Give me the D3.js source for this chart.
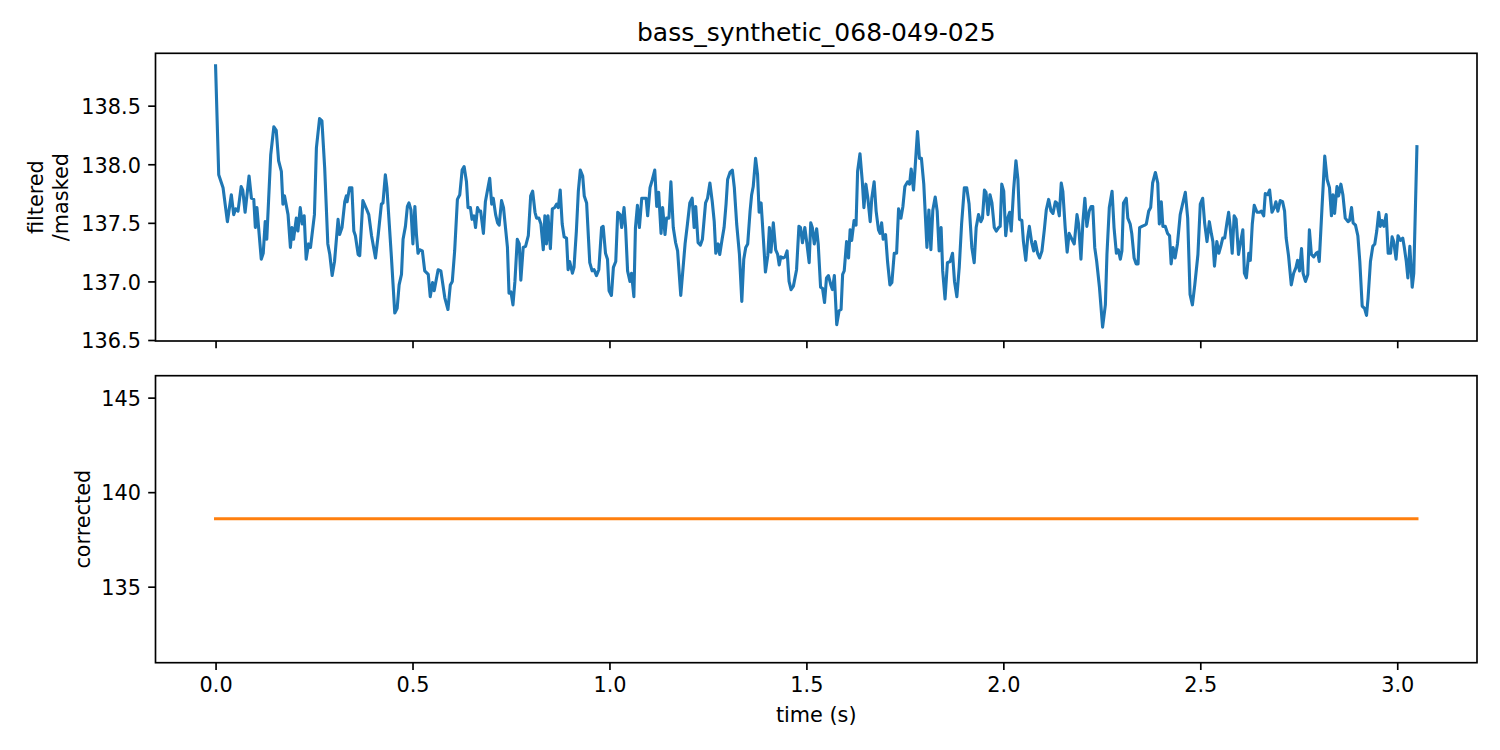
<!DOCTYPE html>
<html>
<head>
<meta charset="utf-8">
<script src="https://cdn.jsdelivr.net/npm/d3@7"></script>
<style>
  body { margin: 0; background: #fff; }
  text { font-family: "DejaVu Sans", sans-serif; fill: #000; }
</style>
</head>
<body>
<svg id="chart"></svg>
<script>
var title = 'bass_synthetic_068-049-025';

// time (s) of each filtered/masked pitch sample
var times = [
  0.000,0.008,0.019,0.030,0.040,0.046,0.051,0.057,0.065,0.069,0.075,0.085,0.091,0.097,0.101,0.105,0.116,0.121,0.126,0.130,
  0.140,0.148,0.154,0.160,0.167,0.171,0.175,0.184,0.190,0.194,0.198,0.205,0.209,0.215,0.220,0.225,0.230,0.236,0.241,0.251,
  0.256,0.264,0.270,0.277,0.285,0.290,0.296,0.302,0.311,0.315,0.321,0.328,0.332,0.334,0.340,0.346,0.351,0.355,
  0.362,0.366,0.374,0.383,0.389,0.396,0.406,0.413,0.421,0.425,0.431,0.435,0.446,0.455,0.461,0.466,0.472,0.476,0.482,0.487,
  0.491,0.496,0.501,0.506,0.510,0.514,0.518,0.525,0.531,0.540,0.545,0.551,0.555,0.565,0.572,0.582,0.590,0.596,0.601,0.607,
  0.614,0.620,0.626,0.631,0.637,0.641,0.647,0.651,0.656,0.660,0.665,0.669,0.673,0.680,0.685,0.696,0.701,0.705,0.711,0.716,
  0.720,0.726,0.731,
  0.741,0.745,0.750,0.755,0.760,0.766,0.771,0.775,0.781,0.787,0.794,0.800,0.805,0.811,0.815,0.821,0.826,0.832,0.836,0.840,
  0.844,0.850,0.855,0.861,0.866,0.870,0.875,0.880,0.885,0.891,0.895,0.899,0.906,0.910,0.916,0.921,0.926,0.932,0.936,0.942,
  0.950,0.956,0.961,0.967,0.973,0.980,0.984,0.990,0.995,0.999,1.005,1.010,1.016,1.021,1.027,1.031,1.037,1.041,1.046,1.052,
  1.056,1.062,1.066,1.071,1.076,1.082,1.088,1.093,1.097,1.103,1.109,1.115,
  1.120,1.125,1.131,1.135,1.141,1.145,1.151,1.156,1.162,1.168,1.173,1.181,1.192,1.198,1.204,1.210,1.215,1.219,1.225,1.231,
  1.236,1.244,1.249,1.255,1.261,1.266,1.270,1.276,1.280,1.286,1.291,1.296,1.300,1.306,1.312,1.317,1.323,1.330,1.336,1.341,
  1.346,1.351,1.357,1.361,1.365,1.371,1.376,1.380,1.385,1.389,1.396,1.402,1.406,1.410,1.416,1.422,1.427,1.431,1.435,1.441,
  1.446,1.451,1.456,1.461,1.467,1.475,1.481,1.485,1.490,1.496,
  1.501,1.507,1.511,1.515,1.520,1.526,1.530,1.536,1.541,1.546,1.551,1.556,1.562,1.566,1.571,1.577,1.583,1.588,1.592,1.596,
  1.602,1.607,1.611,1.615,1.621,1.626,1.630,1.636,1.642,1.646,1.651,1.656,1.662,1.666,1.672,1.677,1.683,1.687,1.691,1.695,
  1.701,1.706,1.712,1.717,1.723,1.729,1.734,1.740,1.745,1.750,1.757,1.762,1.766,1.772,1.776,1.782,1.787,1.792,1.798,1.806,
  1.811,1.816,1.821,1.827,1.832,1.837,1.842,1.846,1.852,1.858,1.865,1.871,1.876,1.882,
  1.888,1.894,1.901,1.907,1.913,1.920,1.926,1.931,1.937,1.943,1.947,1.952,1.956,1.961,1.966,1.971,1.977,1.982,1.988,1.992,
  1.996,2.001,2.006,2.011,2.016,2.020,2.026,2.032,2.037,2.041,2.047,2.051,2.057,2.062,2.066,2.072,2.077,2.081,2.087,2.092,
  2.098,2.104,2.109,2.115,2.121,2.126,2.132,2.136,2.142,2.147,2.151,2.157,2.162,2.167,2.174,2.180,2.187,2.191,2.197,2.202,
  2.207,2.212,2.218,2.223,2.227,2.232,2.237,2.244,2.252,
  2.259,2.263,2.269,2.276,2.281,2.287,2.292,2.297,2.301,2.305,2.312,2.316,2.322,2.326,2.332,2.337,2.342,2.346,2.352,2.359,
  2.363,2.369,2.374,2.379,2.386,2.392,2.396,2.401,2.405,2.411,2.417,2.422,2.426,2.431,2.436,2.442,2.449,2.455,2.462,2.468,
  2.474,2.480,2.486,2.494,2.500,2.506,2.511,2.517,2.523,2.528,2.532,2.536,2.542,2.547,2.552,2.557,2.562,2.568,2.572,2.576,
  2.581,2.586,2.591,2.597,2.602,2.608,2.612,2.617,2.623,2.627,2.632,2.637,
  2.644,2.650,2.655,2.661,2.665,2.671,2.676,2.682,2.688,2.692,2.697,2.703,2.709,2.714,2.718,2.724,2.731,2.737,2.743,2.747,
  2.752,2.757,2.761,2.767,2.773,2.777,2.782,2.788,2.794,2.798,2.802,2.809,2.816,2.822,2.828,2.833,2.837,2.841,2.847,2.851,
  2.857,2.862,2.868,2.875,2.879,2.884,2.888,2.894,2.900,2.905,2.911,2.917,2.922,2.926,2.932,2.938,2.943,2.948,2.953,2.957,
  2.961,2.966,2.972,2.977,2.983,2.987,2.991,2.997,3.002,3.008,3.014,3.018,3.023,3.027,3.032,3.038,3.042,3.050
];

// filtered / masked pitch values (one per time above)
var filtered = [
  138.84,137.91,137.80,137.51,137.74,137.57,137.62,137.60,137.81,137.78,137.59,137.90,137.71,137.70,137.46,137.63,137.19,137.24,137.51,137.36,
  138.08,138.32,138.29,138.03,137.94,137.66,137.73,137.57,137.29,137.46,137.36,137.54,137.43,137.63,137.49,137.56,137.19,137.32,137.29,137.57,
  138.14,138.39,138.37,137.97,137.32,137.23,137.05,137.17,137.53,137.40,137.46,137.68,137.73,137.68,137.80,137.80,137.43,137.39,
  137.23,137.22,137.69,137.62,137.57,137.39,137.20,137.40,137.66,137.67,137.91,137.80,137.23,136.73,136.77,136.97,137.06,137.36,137.47,137.64,
  137.67,137.61,137.32,137.64,137.40,137.24,137.27,137.26,137.09,137.06,136.87,136.99,136.92,137.10,137.09,136.86,136.76,136.97,137.00,137.26,
  137.70,137.74,137.95,137.98,137.85,137.63,137.63,137.53,137.56,137.46,137.63,137.60,137.60,137.41,137.68,137.88,137.66,137.71,137.57,137.50,
  137.48,137.69,137.63,
  137.29,136.90,136.91,136.80,137.00,137.36,137.32,137.01,137.29,137.30,137.39,137.73,137.77,137.59,137.54,137.54,137.49,137.27,137.56,137.32,
  137.56,137.28,137.62,137.63,137.66,137.63,137.78,137.49,137.38,137.37,137.10,137.17,137.07,137.12,137.43,137.77,137.95,137.90,137.73,137.67,
  137.16,137.09,137.10,137.05,137.10,137.46,137.47,137.24,137.19,136.92,136.88,137.12,137.17,137.59,137.57,137.46,137.63,137.46,137.09,137.00,
  137.07,136.87,137.46,137.65,137.46,137.71,137.71,137.71,137.56,137.80,137.87,137.95,
  137.64,137.76,137.41,137.63,137.40,137.54,137.54,137.85,137.46,137.33,137.26,136.88,137.32,137.49,137.67,137.71,137.46,137.64,137.33,137.31,
  137.36,137.67,137.71,137.84,137.68,137.51,137.24,137.32,137.23,137.36,137.46,137.66,137.87,137.93,137.95,137.80,137.49,137.23,136.83,137.19,
  137.29,137.32,137.60,137.74,137.81,138.05,137.91,137.59,137.67,137.46,137.08,137.22,137.46,137.25,137.50,137.27,137.23,137.14,137.21,137.20,
  137.21,137.26,137.00,136.93,136.96,137.10,137.47,137.46,137.33,137.46,
  137.33,137.16,137.50,137.46,137.32,137.45,137.32,136.95,136.94,136.82,137.03,137.05,136.97,136.93,137.05,136.63,136.75,136.76,137.06,137.09,
  137.34,137.20,137.44,137.35,137.52,137.48,137.94,138.09,137.85,137.63,137.83,137.71,137.51,137.71,137.85,137.60,137.44,137.41,137.50,137.36,
  137.40,137.17,136.97,136.99,137.24,137.24,137.62,137.54,137.64,137.81,137.85,137.83,137.96,137.78,137.97,138.28,138.05,138.05,137.83,137.29,
  137.61,137.27,137.61,137.72,137.60,137.26,137.46,137.09,136.85,137.16,137.17,137.24,137.00,136.87,
  137.12,137.49,137.80,137.80,137.66,137.29,137.16,137.46,137.57,137.51,137.54,137.78,137.76,137.57,137.74,137.67,137.46,137.43,137.46,137.47,
  137.83,137.77,137.39,137.54,137.59,137.43,137.78,138.03,137.87,137.53,137.52,137.34,137.18,137.38,137.47,137.33,137.26,137.34,137.24,137.20,
  137.26,137.44,137.61,137.70,137.60,137.58,137.68,137.67,137.56,137.84,137.77,137.46,137.25,137.41,137.36,137.32,137.57,137.49,137.19,137.51,
  137.71,137.47,137.60,137.64,137.64,137.29,137.17,136.95,136.61,
  136.80,137.23,137.63,137.77,137.46,137.24,137.27,137.19,137.26,137.67,137.71,137.54,137.49,137.41,137.20,137.15,137.15,137.46,137.47,137.48,
  137.49,137.60,137.63,137.84,137.93,137.84,137.49,137.68,137.47,137.47,137.41,137.39,137.15,137.29,137.20,137.32,137.57,137.66,137.76,137.54,
  136.89,136.80,136.97,137.23,137.66,137.71,137.50,137.34,137.51,137.41,137.34,137.13,137.34,137.24,137.30,137.37,137.37,137.51,137.59,137.46,
  137.24,137.56,137.53,137.23,137.33,137.44,137.07,137.03,137.24,137.18,137.49,137.65,
  137.59,137.59,137.60,137.56,137.75,137.74,137.78,137.59,137.63,137.68,137.60,137.69,137.68,137.60,137.37,137.22,136.97,137.07,137.12,137.18,
  137.09,137.28,137.07,137.00,137.06,137.44,137.23,137.21,137.24,137.25,137.17,137.63,138.07,137.87,137.80,137.56,137.74,137.58,137.81,137.73,
  137.83,137.74,137.54,137.51,137.52,137.63,137.50,137.48,137.39,137.17,136.79,136.77,136.71,136.86,137.17,137.30,137.32,137.43,137.59,137.47,
  137.52,137.47,137.57,137.24,137.24,137.38,137.34,137.19,137.39,137.35,137.37,137.29,137.17,137.03,137.30,136.95,137.07,138.15
];

// corrected pitch: flat over the whole clip
var correctedTimes = [0.0, 3.05];
var corrected = [138.59, 138.59];

var xTicks = [0.0, 0.5, 1.0, 1.5, 2.0, 2.5, 3.0];
var topTicks = [136.5, 137.0, 137.5, 138.0, 138.5];
var bottomTicks = [135, 140, 145];
var xLim = [-0.1525, 3.2025];
var topLim = [136.4915, 138.947];
var bottomLim = [130.98, 146.16];

var width = 1500;
var height = 750;
var left = 155.5, right = 1477;
var topPanel = { y0: 53.3, y1: 341 };
var botPanel = { y0: 375.7, y1: 662.7 };
var fontSize = 20.8;
var tickLen = 7.3;

var svg = d3.select('#chart')
            .attr('width', width)
            .attr('height', height)
            .style('background', '#fff');

var xScale = d3.scaleLinear().domain(xLim).range([left, right]);
var yTop = d3.scaleLinear().domain(topLim).range([topPanel.y1, topPanel.y0]);
var yBot = d3.scaleLinear().domain(bottomLim).range([botPanel.y1, botPanel.y0]);

function styleAxis(g, showLabels) {
  g.select('.domain').remove();
  g.selectAll('.tick line').attr('stroke', '#000').attr('stroke-width', 1.67);
  g.selectAll('.tick text')
   .style('font-family', '"DejaVu Sans", sans-serif')
   .style('font-size', fontSize + 'px')
   .attr('fill', '#000');
  if (!showLabels) g.selectAll('.tick text').remove();
}

function drawPanel(panel, yScale, yTicks, yFormat, showXLabels) {
  var xAxis = d3.axisBottom(xScale).tickValues(xTicks)
                .tickFormat(d3.format('.1f')).tickSize(tickLen).tickPadding(7.3);
  var yAxis = d3.axisLeft(yScale).tickValues(yTicks)
                .tickFormat(yFormat).tickSize(tickLen).tickPadding(7.3);

  svg.append('g')
     .attr('transform', 'translate(0,' + panel.y1 + ')')
     .call(xAxis)
     .call(function(g){ styleAxis(g, showXLabels); });

  var yg = svg.append('g')
              .attr('transform', 'translate(' + left + ',0)')
              .call(yAxis)
              .call(function(g){ styleAxis(g, true); });
  yg.selectAll('.tick text').attr('dy', null).attr('y', 7.8);

  // frame
  svg.append('rect')
     .attr('x', left)
     .attr('y', panel.y0)
     .attr('width', right - left)
     .attr('height', panel.y1 - panel.y0)
     .attr('fill', 'none')
     .attr('stroke', '#000')
     .attr('stroke-width', 1.67);
}

drawPanel(topPanel, yTop, topTicks, d3.format('.1f'), false);
drawPanel(botPanel, yBot, bottomTicks, d3.format('d'), true);

var topData = times.map(function(t, i){ return { t: t, v: filtered[i] }; });
var botData = correctedTimes.map(function(t, i){ return { t: t, v: corrected[i] }; });

svg.append('path')
   .datum(topData)
   .attr('fill', 'none')
   .attr('stroke', '#1f77b4')
   .attr('stroke-width', 3.1)
   .attr('stroke-linejoin', 'round')
   .attr('stroke-linecap', 'square')
   .attr('d', d3.line()
             .x(function(d){ return xScale(d.t); })
             .y(function(d){ return yTop(d.v); }));

svg.append('path')
   .datum(botData)
   .attr('fill', 'none')
   .attr('stroke', '#ff7f0e')
   .attr('stroke-width', 3.1)
   .attr('stroke-linecap', 'square')
   .attr('d', d3.line()
             .x(function(d){ return xScale(d.t); })
             .y(function(d){ return yBot(d.v); }));

// title and labels
var midX = (left + right) / 2;

svg.append('text')
   .attr('x', midX)
   .attr('y', 41)
   .attr('text-anchor', 'middle')
   .style('font-size', '25px')
   .text(title);

svg.append('text')
   .attr('x', midX)
   .attr('y', 721.7)
   .attr('text-anchor', 'middle')
   .style('font-size', fontSize + 'px')
   .text('time (s)');

var topMid = (topPanel.y0 + topPanel.y1) / 2;
var yl = svg.append('text')
            .attr('transform', 'translate(0,' + topMid + ') rotate(-90)')
            .attr('text-anchor', 'middle')
            .style('font-size', fontSize + 'px');
yl.append('tspan').attr('x', 0).attr('y', 43).text('filtered');
yl.append('tspan').attr('x', 0).attr('y', 68).text('/masked');

var botMid = (botPanel.y0 + botPanel.y1) / 2;
svg.append('text')
   .attr('transform', 'translate(90,' + botMid + ') rotate(-90)')
   .attr('text-anchor', 'middle')
   .style('font-size', fontSize + 'px')
   .text('corrected');
</script>
</body>
</html>
